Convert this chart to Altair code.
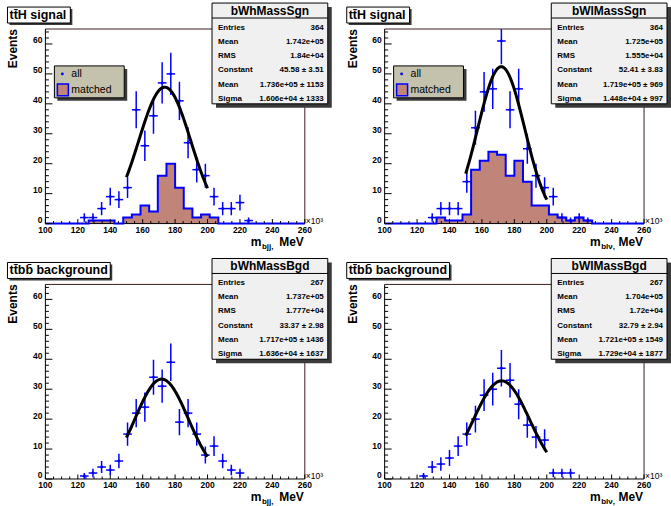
import altair as alt
import pandas as pd

# ---------------- data ----------------
bin_edges = [100.0, 105.33, 110.67, 116.0, 121.33, 126.67, 132.0, 137.33, 142.67, 148.0,
             153.33, 158.67, 164.0, 169.33, 174.67, 180.0, 185.33, 190.67, 196.0, 201.33,
             206.67, 212.0, 217.33, 222.67, 228.0, 233.33, 238.67, 244.0, 249.33, 254.67, 260.0]

sgn_h_all = [0, 0, 0, 0, 2, 2, 5, 9, 8, 12, 38, 26, 36, 47, 50, 41, 27, 18, 16, 9, 5, 5, 7, 1, 0, 0, 0, 0, 0, 0]
sgn_h_matched = [0, 0, 0, 0, 0, 1, 1, 1, 0, 2, 3, 6, 4, 16, 20, 12, 5, 2, 3, 2, 0, 0, 0, 0, 0, 0, 0, 0, 0, 0]
sgn_l_all = [0, 0, 0, 0, 0, 2, 5, 5, 5, 14, 32, 44, 45, 61, 38, 45, 25, 16, 12, 9, 2, 1, 2, 1, 0, 0, 0, 0, 0, 0]
sgn_l_matched = [0, 0, 0, 0, 0, 0, 2, 1, 1, 3, 18, 21, 24, 23, 16, 21, 14, 6, 6, 3, 2, 1, 2, 1, 0, 0, 0, 0, 0, 0]
bgd_h_all = [0, 0, 0, 0, 1, 2, 4, 3, 6, 15, 22, 24, 34, 31, 39, 19, 22, 15, 8, 11, 6, 3, 2, 0, 0, 0, 0, 0, 0, 0]
bgd_l_all = [0, 0, 0, 0, 1, 4, 5, 7, 11, 15, 20, 28, 30, 37, 33, 25, 18, 14, 13, 2, 2, 2, 0, 0, 0, 0, 0, 0, 0, 0]

all_series = [sgn_h_all, sgn_l_all, bgd_h_all, bgd_l_all]
matched_series = [sgn_h_matched, sgn_l_matched, None, None]

panel_titles = ["tt\u0304H signal", "tt\u0304H signal", "tt\u0304bb\u0304 background", "tt\u0304bb\u0304 background"]
stat_names = ["bWhMassSgn", "bWlMassSgn", "bWhMassBgd", "bWlMassBgd"]
stat_labels = ["Entries", "Mean", "RMS", "Constant", "Mean", "Sigma"]
stat_values = [
    ["364", "1.742e+05", "1.84e+04", "45.58 \u00b1 3.51", "1.736e+05 \u00b1 1153", "1.606e+04 \u00b1 1333"],
    ["364", "1.725e+05", "1.555e+04", "52.41 \u00b1 3.83", "1.719e+05 \u00b1 969", "1.448e+04 \u00b1 997"],
    ["267", "1.737e+05", "1.777e+04", "33.37 \u00b1 2.98", "1.717e+05 \u00b1 1436", "1.636e+04 \u00b1 1637"],
    ["267", "1.704e+05", "1.72e+04", "32.79 \u00b1 2.94", "1.721e+05 \u00b1 1549", "1.729e+04 \u00b1 1877"],
]
fit_constant = [45.58, 52.41, 33.37, 32.79]
fit_mean = [173.6, 171.9, 171.7, 172.1]
fit_sigma = [16.06, 14.48, 16.36, 17.29]
fit_range = [150, 200]
x_subscripts = ["bjj,", "bl\u03bd,", "bjj,", "bl\u03bd,"]
legend_labels = ["all", "matched"]

x_major = [100, 120, 140, 160, 180, 200, 220, 240, 260]
x_minor = [105, 110, 115, 125, 130, 135, 145, 150, 155, 165, 170, 175, 185, 190, 195,
           205, 210, 215, 225, 230, 235, 245, 250, 255]
y_major = [0, 10, 20, 30, 40, 50, 60]
y_minor = [2, 4, 6, 8, 12, 14, 16, 18, 22, 24, 26, 28, 32, 34, 36, 38, 42, 44, 46, 48,
           52, 54, 56, 58, 62, 64]

# ---------------- styling ----------------
W, H = 260, 195
X0, X1, Y0, Y1 = 100, 260, 0, 65
FONT = "Liberation Sans"
BLUE = "#0000ff"
MATCH = "#c08478"
LEGBG = "#c4c2ad"
STATBG = "#f0f0f0"
SHADOW = "#3a3a3a"
FRAME = "#3b1e1e"
XS = alt.Scale(domain=[X0, X1], nice=False, zero=False)
YS = alt.Scale(domain=[Y0, Y1], nice=False, zero=False)
PX_PER_X = W / (X1 - X0)
PX_PER_Y = H / (Y1 - Y0)


def one():
    return alt.Data(values=[{"k": 0}])


def box(x1, x2, y1, y2, fill, stroke=None, sw=1.0):
    kw = dict(fill=fill)
    if stroke:
        kw.update(stroke=stroke, strokeWidth=sw)
    return alt.Chart(one()).mark_rect(**kw).encode(
        x=alt.value(x1), x2=alt.value(x2), y=alt.value(y1), y2=alt.value(y2))


def txt(t, x, y, size, weight="normal", align="left", baseline="alphabetic", lh=None, angle=None):
    kw = dict(font=FONT, fontSize=size, fontWeight=weight, align=align,
              baseline=baseline, color="black")
    if lh:
        kw["lineHeight"] = lh
    if angle is not None:
        kw["angle"] = angle
    return alt.Chart(one()).mark_text(**kw).encode(
        x=alt.value(x), y=alt.value(y), text=alt.value(t))


def hline(yv, xa, xb, color):
    return alt.Chart(one()).transform_calculate(a=f"{xa}", b=f"{xb}", c=f"{yv}").mark_rule(
        color=color, strokeWidth=1).encode(
        x=alt.X("a:Q", scale=XS, axis=None), x2="b:Q", y=alt.Y("c:Q", scale=YS, axis=None))


def vline(xv, ya, yb, color):
    return alt.Chart(one()).transform_calculate(a=f"{ya}", b=f"{yb}", c=f"{xv}").mark_rule(
        color=color, strokeWidth=1).encode(
        y=alt.Y("a:Q", scale=YS, axis=None), y2="b:Q", x=alt.X("c:Q", scale=XS, axis=None))


def xticks(vals, length_px):
    return alt.Chart(alt.Data(values=[{"v": v} for v in vals])).transform_calculate(
        a=f"{Y0}", b=f"{Y0 + length_px / PX_PER_Y}").mark_rule(color="black", strokeWidth=1).encode(
        x=alt.X("v:Q", scale=XS, axis=None),
        y=alt.Y("a:Q", scale=YS, axis=None), y2="b:Q")


def yticks(vals, length_px):
    return alt.Chart(alt.Data(values=[{"v": v} for v in vals])).transform_calculate(
        a=f"{X0}", b=f"{X0 + length_px / PX_PER_X}").mark_rule(color="black", strokeWidth=1).encode(
        y=alt.Y("v:Q", scale=YS, axis=None),
        x=alt.X("a:Q", scale=XS, axis=None), x2="b:Q")


def xlabels(vals):
    return alt.Chart(alt.Data(values=[{"v": v} for v in vals])).transform_calculate(
        a=f"{Y0 - 9.5 / PX_PER_Y}").mark_text(
        font=FONT, fontSize=8.5, fontWeight="bold", color="black", align="center",
        baseline="alphabetic").encode(
        x=alt.X("v:Q", scale=XS, axis=None), y=alt.Y("a:Q", scale=YS, axis=None),
        text=alt.Text("v:Q"))


def ylabels(vals):
    return alt.Chart(alt.Data(values=[{"v": v} for v in vals])).transform_calculate(
        a=f"{X0 - 3 / PX_PER_X}").mark_text(
        font=FONT, fontSize=8.5, fontWeight="bold", color="black", align="right",
        baseline="middle", dy=-3.5).encode(
        x=alt.X("a:Q", scale=XS, axis=None), y=alt.Y("v:Q", scale=YS, axis=None),
        text=alt.Text("v:Q"))


def make_panel(i):
    lo = bin_edges[:-1]
    hi = bin_edges[1:]
    layers = []

    # matched histogram fill
    m = matched_series[i]
    if m is not None:
        dfm = pd.DataFrame({"e": bin_edges, "n": m + [m[-1]]})
        layers.append(alt.Chart(dfm).transform_calculate(z="0").mark_area(
            interpolate="step-after", color=MATCH, opacity=1).encode(
            x=alt.X("e:Q", scale=XS, axis=None),
            y=alt.Y("n:Q", scale=YS, axis=None), y2="z:Q"))

    # frame and axis lines
    layers.append(hline(Y1, X0, X1, FRAME))
    layers.append(vline(X1, Y0, Y1, FRAME))
    layers.append(hline(Y0, X0, X1, "black"))
    layers.append(vline(X0, Y0, Y1, "black"))

    if m is not None:
        layers.append(alt.Chart(dfm).mark_line(
            interpolate="step-after", color=BLUE, strokeWidth=2).encode(
            x=alt.X("e:Q", scale=XS, axis=None), y=alt.Y("n:Q", scale=YS, axis=None)))

    # inward ticks and labels
    layers.append(xticks(x_major, 4.5))
    layers.append(xticks(x_minor, 2.5))
    layers.append(yticks(y_major, 7))
    layers.append(yticks(y_minor, 3.5))
    layers.append(xlabels(x_major))
    layers.append(ylabels(y_major))

    # "all" points with sqrt(N) errors
    dfa = pd.DataFrame({"lo": lo, "hi": hi, "n": all_series[i]})
    dfa = dfa[dfa.n > 0]
    base = alt.Chart(dfa).transform_calculate(
        c="(datum.lo + datum.hi) / 2",
        ylo="datum.n - sqrt(datum.n)",
        yhi="datum.n + sqrt(datum.n)")
    layers.append(base.mark_rule(color=BLUE, strokeWidth=1.5, clip=True).encode(
        x=alt.X("c:Q", scale=XS, axis=None),
        y=alt.Y("ylo:Q", scale=YS, axis=None), y2="yhi:Q"))
    layers.append(base.mark_rule(color=BLUE, strokeWidth=1.5).encode(
        x=alt.X("lo:Q", scale=XS, axis=None), x2="hi:Q",
        y=alt.Y("n:Q", scale=YS, axis=None)))
    layers.append(base.mark_circle(color=BLUE, size=8, opacity=1).encode(
        x=alt.X("c:Q", scale=XS, axis=None), y=alt.Y("n:Q", scale=YS, axis=None)))

    # gaussian fit
    C, mu, s = fit_constant[i], fit_mean[i], fit_sigma[i]
    layers.append(alt.Chart(alt.sequence(fit_range[0], fit_range[1] + 0.01, 0.5, as_="x"))
                  .transform_calculate(f=f"{C} * exp(-0.5 * pow((datum.x - {mu}) / {s}, 2))")
                  .mark_line(color="black", strokeWidth=3).encode(
                      x=alt.X("x:Q", scale=XS, axis=None), y=alt.Y("f:Q", scale=YS, axis=None)))

    # legend
    if m is not None:
        layers.append(box(12, 82, 40, 72, SHADOW))
        layers.append(box(9, 79, 37, 69, LEGBG, "black", 1))
        layers.append(alt.Chart(one()).mark_circle(color=BLUE, size=8, opacity=1).encode(
            x=alt.value(17), y=alt.value(45)))
        layers.append(txt(legend_labels[0], 26, 45, 10.5, baseline="middle"))
        layers.append(box(12, 23, 55, 67, MATCH, BLUE, 1.5))
        layers.append(txt(legend_labels[1], 26, 61.5, 10.5, baseline="middle"))

    # stats box
    sx1, sx2, sy1, sy2 = 167, 283, -26, 75
    layers.append(box(sx1 + 4, sx2 + 4, sy1 + 4, sy2 + 4, SHADOW))
    layers.append(box(sx1, sx2, sy1, sy2, STATBG, "black", 1))
    layers.append(alt.Chart(one()).mark_rule(color="black", strokeWidth=1).encode(
        x=alt.value(sx1), x2=alt.value(sx2), y=alt.value(-11), y2=alt.value(-11)))
    layers.append(txt(stat_names[i], (sx1 + sx2) / 2, -14, 12, "bold", "center"))
    layers.append(txt(stat_labels, 173, 0.5, 8, "bold", "left", lh=14.3))
    layers.append(txt(stat_values[i], 279, 0.5, 8, "bold", "right", lh=14.3))

    # panel title box
    tw = 25 if i < 2 else 65
    layers.append(box(-36, tw + 2, -20, -4, SHADOW))
    layers.append(box(-38, tw, -22, -6, "white", "black", 1))
    layers.append(txt(panel_titles[i], -36, -10, 12.5, "bold", "left"))

    # axis titles and exponent
    layers.append(txt("Events", -28, 0, 12, "bold", "right", angle=270))
    layers.append(txt("m", 216.5, 217, 12, "bold", "right"))
    layers.append(txt(x_subscripts[i], 217, 220, 8, "bold", "left"))
    layers.append(txt(" MeV", 259, 217, 12, "bold", "right"))
    layers.append(txt("\u00d710\u00b3", 261, 195, 8.5, "normal", "left"))

    return alt.layer(*layers).properties(width=W, height=H)


panels = [make_panel(i) for i in range(4)]

chart = alt.concat(
    *panels, columns=2, spacing=alt.RowColnumber(row=61, column=80), bounds="flush"
).properties(
    padding={"left": 6.5, "top": 1.5, "right": 0, "bottom": 0},
    background="white",
).configure_view(
    strokeWidth=0
)

chart.save("out.html", embed_options={"renderer": "svg", "actions": False})
